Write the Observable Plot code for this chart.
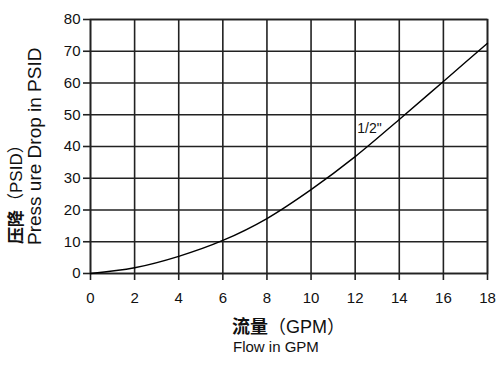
<!DOCTYPE html>
<html>
<head>
<meta charset="utf-8">
<script src="https://cdn.jsdelivr.net/npm/d3@7"></script>
<script src="https://cdn.jsdelivr.net/npm/@observablehq/plot@0.6"></script>
<style>
  html, body { margin: 0; padding: 0; background: #fff; }
  svg { display: block; }
</style>
</head>
<body>
<div id="chart"></div>
<script>
const flow = [0, 2, 4, 6, 8, 10, 12, 14, 16, 18];
const psid = [0, 1.8, 5.4, 10.4, 17.3, 26.4, 36.8, 48.5, 60.5, 72.5];
const xTicks = [0, 2, 4, 6, 8, 10, 12, 14, 16, 18];
const yTicks = [0, 10, 20, 30, 40, 50, 60, 70, 80];
const seriesLabel = [{x: 12.65, y: 45.8, text: '1/2"'}];

const data = flow.map((f, i) => ({flow: f, psid: psid[i]}));
const font = '"Liberation Sans", Arial, sans-serif';
const cjk = '"Noto Sans CJK SC", sans-serif';

const chart = Plot.plot({
  width: 501,
  height: 371,
  marginLeft: 90,
  marginRight: 14,
  marginTop: 19,
  marginBottom: 98,
  style: {fontFamily: font, background: "#fff", color: "#111"},
  x: {domain: [0, 18]},
  y: {domain: [0, 80]},
  marks: [
    Plot.gridX(xTicks, {stroke: "#222", strokeOpacity: 1, strokeWidth: 1.6}),
    Plot.gridY(yTicks, {stroke: "#222", strokeOpacity: 1, strokeWidth: 1.6}),
    Plot.frame({stroke: "#222", strokeWidth: 1.6}),
    Plot.axisX(xTicks, {tickSize: 7, tickPadding: 12, fontSize: 15, label: null, stroke: "#222", strokeWidth: 1.6, fill: "#111"}),
    Plot.axisY(yTicks, {tickSize: 7, tickPadding: 3, fontSize: 15, label: null, stroke: "#222", strokeWidth: 1.6, fill: "#111"}),
    Plot.line(data, {x: "flow", y: "psid", curve: "monotone-x", stroke: "#000", strokeWidth: 1.4}),
    Plot.text(seriesLabel, {x: "x", y: "y", text: "text", fontSize: 14, fill: "#111", textAnchor: "middle"})
  ]
});

const svg = d3.select(chart);

function mixedTitle(sel, cjkPart, rest) {
  sel.append("tspan").attr("font-family", cjk).attr("font-weight", "bold").text(cjkPart);
  sel.append("tspan").attr("font-family", cjk).attr("font-weight", "normal").text(rest.slice(0, 1));
  sel.append("tspan").attr("font-family", font).attr("font-weight", "normal").text(rest.slice(1, -1));
  sel.append("tspan").attr("font-family", cjk).attr("font-weight", "normal").text(rest.slice(-1));
}

// Y-axis titles (rotated)
const yt1 = svg.append("text")
  .attr("transform", "translate(22,244) rotate(-90)")
  .attr("text-anchor", "start")
  .attr("font-size", 17)
  .attr("fill", "#111");
mixedTitle(yt1, "压降", "（PSID）");

svg.append("text")
  .attr("transform", "translate(41,245) rotate(-90)")
  .attr("text-anchor", "start")
  .attr("font-family", font)
  .attr("font-size", 19)
  .attr("fill", "#111")
  .text("Press ure Drop in PSID");

// X-axis titles
const xt1 = svg.append("text")
  .attr("x", 232)
  .attr("y", 333)
  .attr("text-anchor", "start")
  .attr("font-size", 18)
  .attr("fill", "#111");
mixedTitle(xt1, "流量", "（GPM）");

svg.append("text")
  .attr("x", 233)
  .attr("y", 352)
  .attr("text-anchor", "start")
  .attr("font-family", font)
  .attr("font-size", 15)
  .attr("fill", "#111")
  .text("Flow in GPM");

document.getElementById("chart").appendChild(chart);
</script>
</body>
</html>
